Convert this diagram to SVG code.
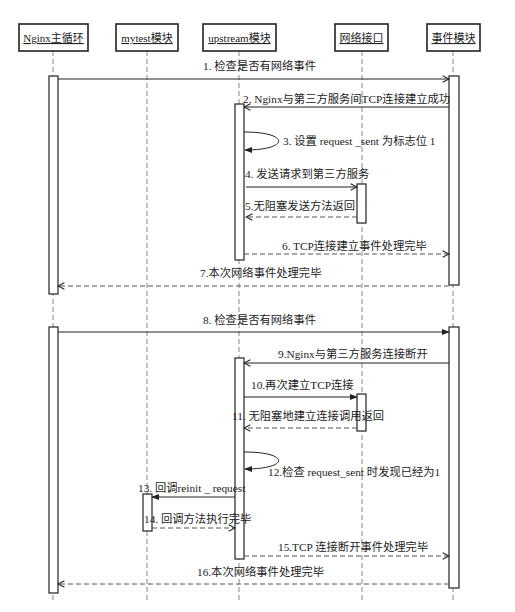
<svg xmlns="http://www.w3.org/2000/svg" width="515" height="612" viewBox="0 0 515 612">
<style>
.box{fill:#fff;stroke:#222;stroke-width:1.6}
.hdr{font-family:"Liberation Serif","Noto Sans CJK SC",serif;font-size:11px;fill:#222;text-anchor:middle;text-decoration:underline}
.life{stroke:#888;stroke-width:1;stroke-dasharray:5 3;fill:none}
.act{fill:#fff;stroke:#222;stroke-width:1.2}
.msg{stroke:#222;stroke-width:1;fill:none}
.ret{stroke:#555;stroke-width:1;fill:none;stroke-dasharray:5 3}
.lbl{font-family:"Liberation Serif","Noto Sans CJK SC",serif;font-size:11.3px;fill:#222}
</style>
<defs>
<marker id="open" viewBox="0 0 10 10" refX="9" refY="5" markerWidth="8" markerHeight="8" orient="auto" markerUnits="userSpaceOnUse">
<path d="M1,1 L9,5 L1,9" fill="none" stroke="#222" stroke-width="1.3"/>
</marker>
<marker id="fill" viewBox="0 0 10 10" refX="9" refY="5" markerWidth="8" markerHeight="8" orient="auto" markerUnits="userSpaceOnUse">
<path d="M0,1 L10,5 L0,9 Z" fill="#222"/>
</marker>
</defs>
<rect width="515" height="612" fill="#fff"/>
<g id="lifelines">
<line class="life" x1="53" y1="51" x2="53" y2="603"/>
<line class="life" x1="147" y1="51" x2="147" y2="603"/>
<line class="life" x1="239" y1="51" x2="239" y2="600"/>
<line class="life" x1="362" y1="51" x2="362" y2="603"/>
<line class="life" x1="453" y1="51" x2="453" y2="603"/>
</g>
<g id="node-nginx">
<rect class="box" x="19" y="24" width="69" height="27"/>
<text class="hdr" x="53.5" y="42">Nginx主循环</text>
<rect class="act" x="49" y="76" width="9" height="218"/>
<rect class="act" x="49" y="327" width="9" height="266"/>
</g>
<g id="node-mytest">
<rect class="box" x="116" y="24" width="62" height="27"/>
<text class="hdr" x="147" y="42">mytest模块</text>
<rect class="act" x="143" y="494" width="9" height="37"/>
</g>
<g id="node-upstream">
<rect class="box" x="203" y="24" width="73" height="27"/>
<text class="hdr" x="239.5" y="42">upstream模块</text>
<rect class="act" x="235" y="104" width="9" height="156"/>
<rect class="act" x="235" y="358" width="9" height="201"/>
</g>
<g id="node-network">
<rect class="box" x="335" y="24" width="53" height="27"/>
<text class="hdr" x="361.5" y="42">网络接口</text>
<rect class="act" x="357" y="184" width="9" height="39"/>
<rect class="act" x="357" y="394" width="9" height="37"/>
</g>
<g id="node-event">
<rect class="box" x="427" y="24" width="53" height="27"/>
<text class="hdr" x="453.5" y="42">事件模块</text>
<rect class="act" x="449" y="76" width="10" height="209"/>
<rect class="act" x="449" y="327" width="10" height="261"/>
</g>
<g id="connectors">
<line class="msg" x1="58" y1="79" x2="449" y2="79" marker-end="url(#open)"/>
<line class="msg" x1="449" y1="107" x2="244" y2="107" marker-end="url(#open)"/>
<path class="msg" d="M244,132 C290,132 290,150 245,150" marker-end="url(#fill)"/>
<line class="msg" x1="246" y1="187" x2="357" y2="187" marker-end="url(#open)"/>
<line class="ret" x1="357" y1="217" x2="246" y2="217" marker-end="url(#open)"/>
<line class="ret" x1="244" y1="254" x2="449" y2="254" marker-end="url(#open)"/>
<line class="ret" x1="449" y1="286" x2="58" y2="286" marker-end="url(#open)"/>
<line class="msg" x1="58" y1="332" x2="449" y2="332" marker-end="url(#fill)"/>
<line class="msg" x1="449" y1="363" x2="244" y2="363" marker-end="url(#open)"/>
<line class="msg" x1="244" y1="397" x2="357" y2="397" marker-end="url(#fill)"/>
<line class="ret" x1="357" y1="428" x2="244" y2="428" marker-end="url(#open)"/>
<path class="msg" d="M244,452 C290,452 290,469 245,469" marker-end="url(#fill)"/>
<line class="msg" x1="235" y1="497" x2="152" y2="497" marker-end="url(#fill)"/>
<line class="ret" x1="152" y1="528" x2="235" y2="528" marker-end="url(#open)"/>
<line class="ret" x1="244" y1="556" x2="449" y2="556" marker-end="url(#open)"/>
<line class="ret" x1="449" y1="584" x2="58" y2="584" marker-end="url(#open)"/>
</g>
<g id="labels">
<text class="lbl" x="203" y="70">1. 检查是否有网络事件</text>
<text class="lbl" x="243" y="103">2. Nginx与第三方服务间TCP连接建立成功</text>
<text class="lbl" x="283" y="145">3. 设置 request _sent 为标志位 1</text>
<text class="lbl" x="245" y="178">4. 发送请求到第三方服务</text>
<text class="lbl" x="245" y="210">5.无阻塞发送方法返回</text>
<text class="lbl" x="282" y="250">6. TCP连接建立事件处理完毕</text>
<text class="lbl" x="200" y="277">7.本次网络事件处理完毕</text>
<text class="lbl" x="203" y="324">8. 检查是否有网络事件</text>
<text class="lbl" x="278" y="358">9.Nginx与第三方服务连接断开</text>
<text class="lbl" x="251" y="389">10.再次建立TCP连接</text>
<text class="lbl" x="232" y="420">11. 无阻塞地建立连接调用返回</text>
<text class="lbl" x="268" y="476">12.检查 request_sent 时发现已经为1</text>
<text class="lbl" x="138" y="492">13. 回调reinit _ request</text>
<text class="lbl" x="144" y="523">14. 回调方法执行完毕</text>
<text class="lbl" x="278" y="551">15.TCP 连接断开事件处理完毕</text>
<text class="lbl" x="197" y="576">16.本次网络事件处理完毕</text>
</g>
</svg>
